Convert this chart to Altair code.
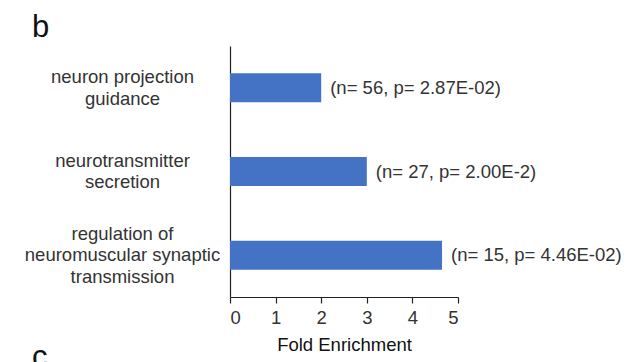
import altair as alt
import pandas as pd

terms = ["neuron projection|guidance", "neurotransmitter|secretion",
         "regulation of|neuromuscular synaptic|transmission"]
fold = [2.0, 3.0, 4.65]
notes = ["(n= 56, p= 2.87E-02)", "(n= 27, p= 2.00E-2)", "(n= 15, p= 4.46E-02)"]
ticks = [0, 1, 2, 3, 4, 5]

df = pd.DataFrame({"term": terms, "fold": fold, "note": notes})

FONT = "Liberation Sans"
TXT = "#333333"
FS = 18.5
LH = 21.5

base = alt.Chart(df)

y_enc = alt.Y("term:N", sort=None,
              scale=alt.Scale(paddingInner=0, paddingOuter=0),
              axis=alt.Axis(title=None, ticks=False, labelAlign="center",
                            labelBaseline="middle", labelPadding=108,
                            labelExpr="split(datum.label, '|')",
                            labelOffset={"condition": {
                                "test": "length(split(datum.value, '|')) > 2",
                                "value": -LH}, "value": -LH / 2},
                            labelFontSize=FS, labelLineHeight=LH,
                            labelFont=FONT, labelColor=TXT, labelLimit=0,
                            domainColor="#222222", domainWidth=1.2))

bars = base.mark_bar(size=29, color="#4472C4").encode(
    x=alt.X("fold:Q", scale=alt.Scale(domain=[0, 5], nice=False),
            axis=alt.Axis(title="Fold Enrichment", values=ticks, grid=False,
                          tickSize=6, tickColor="#222222", tickWidth=1.2,
                          domainColor="#222222", domainWidth=1.2,
                          labelFontSize=FS, labelFont=FONT, labelColor=TXT,
                          labelPadding=5, titleFontSize=FS, titleFont=FONT,
                          titleColor="#111111", titleFontWeight="normal",
                          titlePadding=9)),
    y=y_enc,
)

labels = base.mark_text(align="left", baseline="middle", dx=9, fontSize=FS,
                        font=FONT, color=TXT).encode(
    x="fold:Q", y=alt.Y("term:N", sort=None), text="note:N")

panel_b = alt.Chart(pd.DataFrame({"p": ["b"]})).mark_text(
    align="left", baseline="alphabetic", fontSize=31, font=FONT,
    color="#111111").encode(x=alt.value(-198), y=alt.value(-9), text="p:N")
panel_c = alt.Chart(pd.DataFrame({"p": ["c"]})).mark_text(
    align="left", baseline="alphabetic", fontSize=31, font=FONT,
    color="#111111").encode(x=alt.value(-198), y=alt.value(321), text="p:N")

chart = alt.layer(bars, labels, panel_b, panel_c).properties(
    width=228, height=251,
    background="white",
    autosize=alt.AutoSizeParams(type="none"),
    padding={"left": 230, "top": 46, "right": 173, "bottom": 65},
).configure_view(strokeWidth=0)

chart.save("out.html", embed_options={"renderer": "svg", "actions": False})
